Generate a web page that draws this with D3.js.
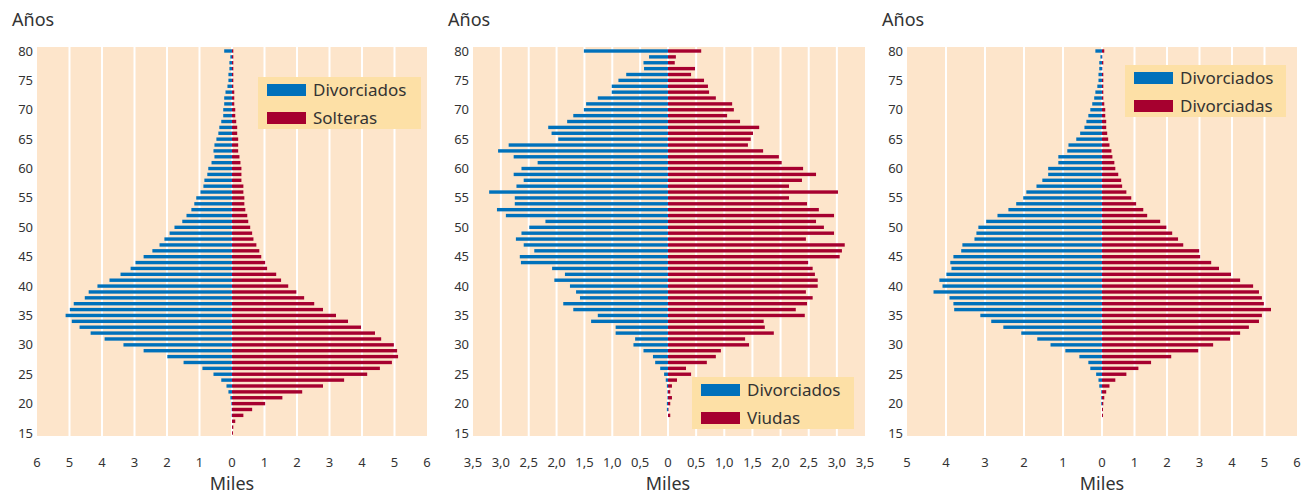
<!DOCTYPE html>
<html>
<head>
<meta charset="utf-8">
<script src="https://cdn.jsdelivr.net/npm/d3@7"></script>
<style>
  body { margin: 0; background: #fff; }
  svg { display: block; font-family: "Noto Sans", "Open Sans", sans-serif; }
</style>
</head>
<body>
<div id="chart"></div>
<script>
// edades, de 80 a 15
const ages = [80,79,78,77,76,75,74,73,72,71,70,69,68,67,66,65,64,63,62,61,60,
  59,58,57,56,55,54,53,52,51,50,49,48,47,46,45,44,43,42,41,40,
  39,38,37,36,35,34,33,32,31,30,29,28,27,26,25,24,23,22,21,20,
  19,18,17,16,15];
const ageTicks = [80,75,70,65,60,55,50,45,40,35,30,25,20,15];

// panel 1: divorciados / solteras (miles)
const divorciados1 = [0.24,0.05,0.08,0.08,0.11,0.11,0.14,0.2,0.24,0.24,0.27,
  0.27,0.33,0.39,0.42,0.48,0.54,0.57,0.54,0.63,0.73,
  0.76,0.85,0.88,0.97,1.1,1.16,1.25,1.4,1.53,1.77,
  1.92,2.08,2.23,2.45,2.72,2.97,3.12,3.43,3.77,4.14,
  4.41,4.53,4.87,4.99,5.12,4.93,4.69,4.35,3.92,3.34,
  2.72,1.99,1.49,0.91,0.57,0.33,0.17,0.11,0.05,0.02,
  0.01,0.01,0,0,0];
const solteras1 = [0.04,0.04,0.04,0.04,0.04,0.04,0.04,0.07,0.07,0.07,0.1,
  0.1,0.13,0.16,0.16,0.19,0.19,0.19,0.23,0.26,0.29,
  0.29,0.29,0.35,0.35,0.38,0.38,0.41,0.47,0.5,0.56,
  0.62,0.66,0.75,0.84,0.9,1.02,1.08,1.36,1.51,1.73,
  1.98,2.22,2.53,2.8,3.2,3.57,3.97,4.4,4.59,4.98,
  5.08,5.11,4.92,4.55,4.16,3.45,2.8,2.16,1.55,1.02,
  0.62,0.35,0.1,0.04,0.03];

// panel 2: divorciados / viudas
const divorciados2 = [1.51,0.34,0.44,0.43,0.75,0.89,1.01,1.01,1.26,1.47,1.51,
  1.7,1.81,2.15,2.09,1.97,2.86,3.05,2.77,2.34,2.63,
  2.77,2.59,2.72,3.21,2.75,2.75,3.07,2.91,2.2,2.49,
  2.63,2.73,2.59,2.4,2.66,2.64,2.08,1.85,2.04,1.76,
  1.65,1.58,1.88,1.7,1.26,1.38,0.94,0.94,0.59,0.62,
  0.44,0.27,0.23,0.14,0.07,0.04,0.02,0.01,0.01,0.02,
  0.02,0,0,0,0];
const viudas2 = [0.59,0.14,0.12,0.48,0.41,0.64,0.71,0.73,0.85,1.14,1.17,
  1.05,1.28,1.62,1.51,1.47,1.42,1.69,1.97,2.02,2.4,
  2.63,2.38,2.15,3.02,2.15,2.47,2.68,2.95,2.63,2.77,
  2.95,2.45,3.14,3.09,3.05,2.49,2.57,2.61,2.66,2.66,
  2.45,2.57,2.47,2.27,2.43,1.7,1.72,1.88,1.37,1.44,
  0.94,0.85,0.69,0.32,0.41,0.16,0.07,0.04,0.07,0.04,
  0.01,0.04,0,0,0];

// panel 3: divorciados / divorciadas
const divorciados3 = [0.17,0.04,0.07,0.07,0.09,0.09,0.12,0.17,0.2,0.25,0.3,
  0.35,0.4,0.45,0.56,0.66,0.86,0.89,1.12,1.12,1.38,
  1.38,1.53,1.68,1.94,2.02,2.2,2.4,2.68,2.97,3.17,
  3.22,3.27,3.58,3.61,3.81,3.89,3.86,3.99,4.17,4.09,
  4.32,3.91,3.81,3.79,3.12,2.84,2.53,2.07,1.66,1.32,
  0.94,0.58,0.35,0.3,0.15,0.09,0.07,0.02,0.02,0.02,
  0,0,0,0,0];
const divorciadas3 = [0.07,0.01,0.04,0.01,0.04,0.04,0.04,0.04,0.04,0.07,0.1,
  0.1,0.13,0.13,0.16,0.19,0.23,0.29,0.32,0.38,0.41,
  0.5,0.59,0.62,0.75,0.9,1.05,1.27,1.39,1.79,1.98,
  2.16,2.34,2.5,2.99,3.02,3.36,3.6,3.97,4.25,4.65,
  4.83,4.92,4.98,5.2,4.92,4.83,4.52,4.25,3.94,3.42,
  2.96,2.13,1.51,1.12,0.75,0.41,0.23,0.13,0.07,0.04,
  0.03,0.03,0,0,0];

const ticks1 = [0,1,2,3,4,5,6];
const ticks2 = [0,0.5,1,1.5,2,2.5,3,3.5];
const ticks3L = [0,1,2,3,4,5];
const ticks3R = [0,1,2,3,4,5,6];

const legend1 = ["Divorciados", "Solteras"];
const legend2 = ["Divorciados", "Viudas"];
const legend3 = ["Divorciados", "Divorciadas"];

const W = 1305, H = 496;
const blue = "#0071bb", red = "#a6002f";
const plotBg = "#fde5cb", legendBg = "#fde0a6", ink = "#333";
const plotTop = 47, plotBottom = 436;

const comma = d => d === 0 ? "0" : d3.format(".1f")(d).replace(".", ",");

const panels = [
  {x0: 37, zero: 232, x1: 427, lmax: 6, rmax: 6, lt: ticks1, rt: ticks1, fmt: d3.format("d"),
   left: divorciados1, right: solteras1, legend: legend1, lx: 258, ly: 77, lw: 163},
  {x0: 473, zero: 668, x1: 865, lmax: 3.5, rmax: 3.5, lt: ticks2, rt: ticks2, fmt: comma,
   left: divorciados2, right: viudas2, legend: legend2, lx: 692, ly: 377, lw: 162},
  {x0: 907, zero: 1102, x1: 1297, lmax: 5, rmax: 6, lt: ticks3L, rt: ticks3R, fmt: d3.format("d"),
   left: divorciados3, right: divorciadas3, legend: legend3, lx: 1125, ly: 65, lw: 161}
];

const svg = d3.select("#chart").append("svg")
    .attr("width", W).attr("height", H);

const y = d3.scaleLinear().domain([15, 80]).range([433, 51]);
const barH = 3.4;

panels.forEach(p => {
  const xl = d3.scaleLinear().domain([0, p.lmax]).range([p.zero, p.x0]);
  const xr = d3.scaleLinear().domain([0, p.rmax]).range([p.zero, p.x1]);
  const g = svg.append("g");

  g.append("rect")
      .attr("x", p.x0).attr("y", plotTop)
      .attr("width", p.x1 - p.x0).attr("height", plotBottom - plotTop)
      .attr("fill", plotBg);

  // lineas de la rejilla
  const grid = p.lt.map(v => xl(v)).concat(p.rt.filter(v => v > 0).map(v => xr(v)))
      .filter(x => x > p.x0 + 1 && x < p.x1 - 1);
  g.append("g").selectAll("line").data(grid).enter().append("line")
      .attr("x1", d => d).attr("x2", d => d)
      .attr("y1", plotTop).attr("y2", plotBottom)
      .attr("stroke", "#fff").attr("stroke-width", 2);

  g.append("g").attr("fill", blue).selectAll("rect").data(p.left).enter().append("rect")
      .attr("x", d => xl(d))
      .attr("y", (d, i) => y(ages[i]) - barH / 2)
      .attr("width", d => xl(0) - xl(d))
      .attr("height", barH);

  g.append("g").attr("fill", red).selectAll("rect").data(p.right).enter().append("rect")
      .attr("x", xr(0))
      .attr("y", (d, i) => y(ages[i]) - barH / 2)
      .attr("width", d => xr(d) - xr(0))
      .attr("height", barH);

  // eje de edades
  g.append("g").style("font-size", "13px").attr("fill", ink)
    .selectAll("text").data(ageTicks).enter().append("text")
      .attr("x", p.x0 - 4).attr("y", d => y(d))
      .attr("dy", "0.35em").attr("text-anchor", "end")
      .text(d => d);

  // eje x
  const xt = p.lt.map(v => ({x: xl(v), v: v}))
      .concat(p.rt.filter(v => v > 0).map(v => ({x: xr(v), v: v})));
  g.append("g").style("font-size", "13px").attr("fill", ink)
    .selectAll("text").data(xt).enter().append("text")
      .attr("x", d => d.x).attr("y", 462)
      .attr("dy", "0.35em").attr("text-anchor", "middle")
      .text(d => p.fmt(d.v));

  g.append("text").attr("x", p.zero).attr("y", 484).attr("dy", "0.35em")
      .attr("text-anchor", "middle").attr("fill", ink).style("font-size", "18px")
      .text("Miles");

  g.append("text").attr("x", p.x0 - 25).attr("y", 20).attr("dy", "0.35em")
      .attr("fill", ink).style("font-size", "18px")
      .text("Años");

  // leyenda
  const lg = g.append("g").attr("transform", `translate(${p.lx},${p.ly})`);
  lg.append("rect").attr("width", p.lw).attr("height", 52).attr("fill", legendBg);
  p.legend.forEach((name, i) => {
    lg.append("rect").attr("x", 9).attr("y", 7 + i * 28)
        .attr("width", 39).attr("height", 12)
        .attr("fill", i === 0 ? blue : red);
    lg.append("text").attr("x", 55).attr("y", 13 + i * 28).attr("dy", "0.35em")
        .attr("fill", ink).style("font-size", "17px")
        .text(name);
  });
});
</script>
</body>
</html>
